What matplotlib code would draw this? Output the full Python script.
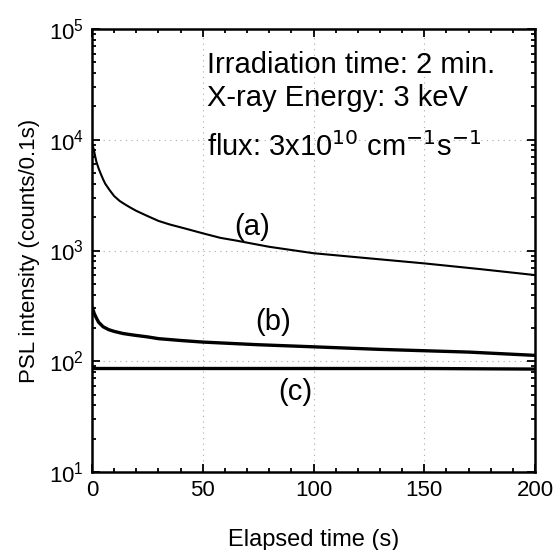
import matplotlib
matplotlib.use("Agg")
import matplotlib.pyplot as plt
from matplotlib.ticker import MultipleLocator, LogLocator, NullFormatter

plt.rcParams['font.family'] = ['Liberation Sans', 'DejaVu Sans']

# curve (a)
t_a = [0, 0.5, 1, 1.5, 2, 3, 4, 5, 6, 8, 10, 12.5, 15, 17.5, 20, 25, 30, 35,
       42, 50, 58, 65, 80, 100, 125, 150, 175, 200]
psl_a = [9500, 8600, 7800, 7000, 6300, 5500, 4900, 4400, 4000, 3500, 3100,
         2800, 2600, 2430, 2280, 2050, 1850, 1720, 1580, 1430, 1300, 1230,
         1080, 945, 850, 765, 680, 600]

# curve (b)
t_b = [0, 0.5, 1, 2, 3, 5, 7.5, 10, 14, 19, 25, 30, 40, 50, 75, 100, 130, 170, 200]
psl_b = [310, 290, 270, 245, 225, 205, 193, 186, 178, 172, 166, 160, 154, 149,
         141, 135, 128, 121, 113]

# curve (c)
t_c = [0, 50, 100, 150, 200]
psl_c = [86, 86, 86, 86, 85]

labels = ["(a)", "(b)", "(c)"]
label_pos = [(0.361, 0.553), (0.409, 0.339), (0.46, 0.181)]

fig = plt.figure(figsize=(5.53, 5.50), dpi=100)
ax = fig.add_axes([92 / 553, 1 - 472 / 550, 443 / 553, 443 / 550])

ax.plot(t_a, psl_a, color='black', lw=1.5)
ax.plot(t_b, psl_b, color='black', lw=2.4)
ax.plot(t_c, psl_c, color='black', lw=2.4)

ax.set_yscale('log')
ax.set_xlim(0, 200)
ax.set_ylim(10, 1e5)

ax.xaxis.set_major_locator(MultipleLocator(50))
ax.xaxis.set_minor_locator(MultipleLocator(10))
ax.yaxis.set_major_locator(LogLocator(base=10, numticks=10))
ax.yaxis.set_minor_locator(LogLocator(base=10, subs=range(2, 10), numticks=20))
ax.yaxis.set_minor_formatter(NullFormatter())

ax.tick_params(which='both', direction='in', top=True, right=True, width=1.3)
ax.tick_params(which='major', length=6, labelsize=16, pad=6)
ax.tick_params(which='minor', length=3)
for s in ax.spines.values():
    s.set_linewidth(1.8)

ax.grid(True, which='major', color='#aaaaaa', linestyle=(0, (1, 4)), lw=0.8)

ax.set_xlabel("Elapsed time (s)", fontsize=17, labelpad=20)
ax.set_ylabel("PSL intensity (counts/0.1s)", fontsize=16, labelpad=6)

ax.text(0.26, 0.919, "Irradiation time: 2 min.", transform=ax.transAxes,
        fontsize=21, va='center')
ax.text(0.26, 0.844, "X-ray Energy: 3 keV", transform=ax.transAxes,
        fontsize=21, va='center')
ax.text(0.26, 0.734, r"flux: 3x10$^{10}$ cm$^{-1}$s$^{-1}$", transform=ax.transAxes,
        fontsize=21, va='center')

for lab, (x, y) in zip(labels, label_pos):
    ax.text(x, y, lab, transform=ax.transAxes, fontsize=21, ha='center', va='center')

fig.savefig("out.png", dpi=100)
